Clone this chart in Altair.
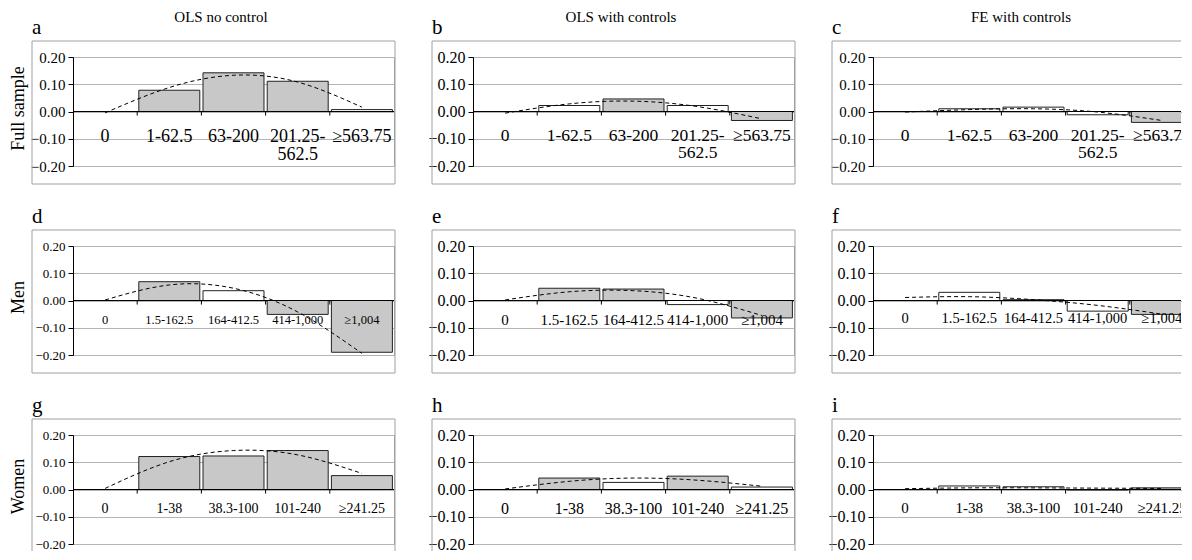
import altair as alt
import pandas as pd

FONT = "Liberation Serif"
W, H = 321, 109
W_LAST = 308  # visible part of the right-hand column (cut at the page edge)

ROW_LABELS = ["Full sample", "Men", "Women"]
COL_TITLES = ["OLS no control", "OLS with controls", "FE with controls"]
LETTERS = ["a", "b", "c", "d", "e", "f", "g", "h", "i"]

CATS_FULL = ["0", "1-62.5", "63-200", "201.25-|562.5", "≥563.75"]
CATS_MEN = ["0", "1.5-162.5", "164-412.5", "414-1,000", "≥1,004"]
CATS_WOMEN = ["0", "1-38", "38.3-100", "101-240", "≥241.25"]

# bar estimates (category "0" is the reference group: no bar)
BAR_A = [None, 0.078, 0.142, 0.111, 0.007]
BAR_B = [None, 0.022, 0.046, 0.022, -0.033]
BAR_C = [None, 0.010, 0.016, -0.012, -0.040]
BAR_D = [None, 0.069, 0.036, -0.051, -0.190]
BAR_E = [None, 0.045, 0.042, -0.015, -0.064]
BAR_F = [None, 0.030, 0.003, -0.039, -0.051]
BAR_G = [None, 0.121, 0.123, 0.143, 0.051]
BAR_H = [None, 0.042, 0.026, 0.049, 0.009]
BAR_I = [None, 0.013, 0.010, -0.002, 0.006]

# significance (s = grey fill, n = white fill)
SIG_A = [None, "s", "s", "s", "n"]
SIG_B = [None, "n", "s", "n", "s"]
SIG_C = [None, "n", "n", "n", "s"]
SIG_D = [None, "s", "n", "s", "s"]
SIG_E = [None, "s", "s", "n", "s"]
SIG_F = [None, "n", "n", "n", "s"]
SIG_G = [None, "s", "s", "s", "s"]
SIG_H = [None, "s", "n", "s", "n"]
SIG_I = [None, "n", "n", "n", "s"]

# dashed fitted curve, read at each category centre
FIT_A = [-0.005, 0.088, 0.133, 0.108, 0.016]
FIT_B = [-0.006, 0.028, 0.038, 0.018, -0.027]
FIT_C = [-0.002, 0.007, 0.010, -0.002, -0.033]
FIT_D = [0.002, 0.057, 0.045, -0.042, -0.194]
FIT_E = [0.002, 0.032, 0.036, 0.008, -0.055]
FIT_F = [0.011, 0.014, 0.003, -0.018, -0.050]
FIT_G = [0.004, 0.102, 0.143, 0.127, 0.059]
FIT_H = [0.002, 0.030, 0.042, 0.034, 0.012]
FIT_I = [0.003, 0.006, 0.006, 0.005, 0.004]

YTICKS = [-0.2, -0.1, 0.0, 0.1, 0.2]

BOX = "#a0a0a0"
GRID = "#b4b4b4"
ONE = pd.DataFrame({"k": [0]})


def panel(cats, bars, sig, fit, letter, title, rowlabel, yfs, xfs, xdy,
          last_col=False, last_row=False):
    width = W_LAST if last_col else W
    df = pd.DataFrame({"cat": cats, "val": bars, "sig": sig, "fit": fit})
    xs = alt.Scale(type="band", domain=cats, range=[0, W], paddingInner=0, paddingOuter=0)
    ys = alt.Scale(domain=[-0.2, 0.2], nice=False, zero=False)
    yaxis = alt.Axis(
        title=None, values=YTICKS, format=".2f", domainColor="black",
        tickColor="black", tickSize=5, labelPadding=3, labelFont=FONT,
        labelFontSize=yfs, labelColor="black", grid=True, gridColor=GRID,
        labelOverlap=False, labelFlush=False,
    )

    def X(field, **kw):
        return alt.X(field, scale=xs, axis=None, **kw)

    def Yf(field):
        return alt.Y(field, scale=ys, axis=yaxis)

    def Yd(v):
        return alt.Y(datum=v, type="quantitative", scale=ys, axis=yaxis)

    base = alt.Chart(df)
    layers = []
    # chart-area frame (cut at the page edge for the last column / last row)
    bottom = H + 7 if last_row else H + 18
    right = width if last_col else width + 1
    layers.append(alt.Chart(ONE).mark_rule(color=BOX, strokeWidth=1).encode(
        x=alt.value(-41), y=alt.value(-16), y2=alt.value(bottom)))
    layers.append(alt.Chart(ONE).mark_rule(color=BOX, strokeWidth=1).encode(
        x=alt.value(-41), x2=alt.value(right), y=alt.value(-16)))
    if not last_col:
        layers.append(alt.Chart(ONE).mark_rule(color=BOX, strokeWidth=1).encode(
            x=alt.value(right), y=alt.value(-16), y2=alt.value(bottom)))
    if not last_row:
        layers.append(alt.Chart(ONE).mark_rule(color=BOX, strokeWidth=1).encode(
            x=alt.value(-41), x2=alt.value(right), y=alt.value(H + 18)))

    layers.append(base.transform_filter("isValid(datum.val)").mark_bar(
        stroke="#222", strokeWidth=1, width={"band": 0.95}, clip=True
    ).encode(
        x=X("cat:N"), y=Yf("val:Q"),
        fill=alt.Fill("sig:N", scale=alt.Scale(domain=["s", "n"], range=["#c8c8c8", "#ffffff"]), legend=None),
    ))
    # zero line with category ticks
    layers.append(alt.Chart(ONE).mark_rule(color="black", strokeWidth=1).encode(y=Yd(0)))
    layers.append(base.mark_rule(color="black", strokeWidth=1, clip=True).encode(
        x=X("cat:N", bandPosition=0), y=Yd(0), y2=alt.Y2(datum=-0.015)))
    layers.append(base.mark_line(
        color="black", strokeWidth=1, strokeDash=[4, 3], interpolate="natural", clip=True
    ).encode(x=X("cat:N"), y=Yf("fit:Q")))
    # category labels
    layers.append(base.mark_text(
        font=FONT, fontSize=xfs, baseline="alphabetic", align="center", dy=xdy,
        lineBreak="|", lineHeight=xfs * 1.02, color="black", clip=True
    ).encode(x=X("cat:N"), y=Yd(0), text="cat:N"))

    layers.append(alt.Chart(pd.DataFrame({"t": [letter]})).mark_text(
        font=FONT, fontSize=21, align="left", baseline="alphabetic", color="black"
    ).encode(text="t:N", x=alt.value(-41), y=alt.value(-23)))
    if title:
        layers.append(alt.Chart(pd.DataFrame({"t": [title]})).mark_text(
            font=FONT, fontSize=15, align="center", baseline="alphabetic", color="black"
        ).encode(text="t:N", x=alt.value(148), y=alt.value(-35)))
    if rowlabel:
        layers.append(alt.Chart(pd.DataFrame({"t": [rowlabel]})).mark_text(
            font=FONT, fontSize=18, align="center", baseline="middle", angle=270, color="black"
        ).encode(text="t:N", x=alt.value(-54), y=alt.value(H / 2 - 3)))
    view = alt.ViewBackground(stroke="transparent" if last_col else BOX)
    return alt.layer(*layers).properties(width=width, height=H, view=view)


panels = [
    panel(CATS_FULL, BAR_A, SIG_A, FIT_A, LETTERS[0], COL_TITLES[0], ROW_LABELS[0], 15, 18, 30),
    panel(CATS_FULL, BAR_B, SIG_B, FIT_B, LETTERS[1], COL_TITLES[1], None, 16, 17.5, 29),
    panel(CATS_FULL, BAR_C, SIG_C, FIT_C, LETTERS[2], COL_TITLES[2], None, 15, 17.5, 29, last_col=True),
    panel(CATS_MEN, BAR_D, SIG_D, FIT_D, LETTERS[3], None, ROW_LABELS[1], 13, 12.5, 23),
    panel(CATS_MEN, BAR_E, SIG_E, FIT_E, LETTERS[4], None, None, 16, 15, 24),
    panel(CATS_MEN, BAR_F, SIG_F, FIT_F, LETTERS[5], None, None, 16, 14.5, 22.5, last_col=True),
    panel(CATS_WOMEN, BAR_G, SIG_G, FIT_G, LETTERS[6], None, ROW_LABELS[2], 13, 14, 23.5, last_row=True),
    panel(CATS_WOMEN, BAR_H, SIG_H, FIT_H, LETTERS[7], None, None, 16, 16, 24, last_row=True),
    panel(CATS_WOMEN, BAR_I, SIG_I, FIT_I, LETTERS[8], None, None, 16, 15, 23.5, last_col=True, last_row=True),
]

chart = alt.concat(*panels, columns=3, spacing={"row": 80, "column": 79}, bounds="flush").properties(
    padding={"left": 1, "top": 1, "right": 0, "bottom": 0}
).configure(background="white")

chart.save("out.html", embed_options={"renderer": "svg", "actions": False})
